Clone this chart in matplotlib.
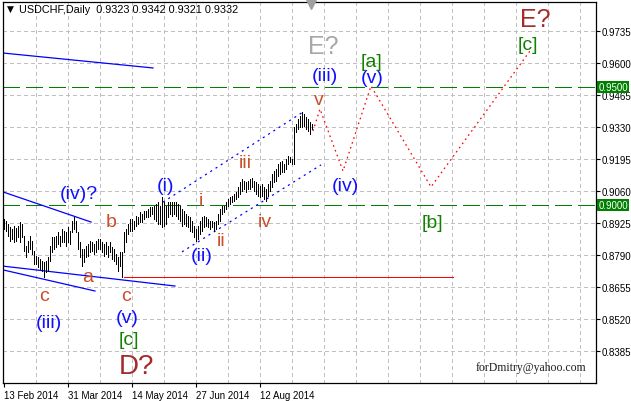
import numpy as np
import matplotlib
matplotlib.use("Agg")
import matplotlib.pyplot as plt

plt.rcParams['lines.scale_dashes'] = False

# daily USDCHF bars, 13 Feb 2014 onwards
highs = [0.8942, 0.8933, 0.8921, 0.8908, 0.8900, 0.8912, 0.8904, 0.8912, 0.8929, 0.8921,
         0.8870, 0.8828, 0.8849, 0.8870, 0.8849, 0.8807, 0.8786, 0.8781, 0.8773, 0.8765,
         0.8760, 0.8765, 0.8781, 0.8828, 0.8866, 0.8866, 0.8870, 0.8887, 0.8870, 0.8900,
         0.8891, 0.8887, 0.8908, 0.8891, 0.8933, 0.8950, 0.8933, 0.8887, 0.8845, 0.8815,
         0.8815, 0.8828, 0.8836, 0.8849, 0.8845, 0.8836, 0.8849, 0.8857, 0.8857, 0.8845,
         0.8836, 0.8845, 0.8828, 0.8845, 0.8824, 0.8815, 0.8794, 0.8781, 0.8803, 0.8803,
         0.8887, 0.8900, 0.8921, 0.8942, 0.8942, 0.8933, 0.8954, 0.8950, 0.8971, 0.8963,
         0.8975, 0.8975, 0.8984, 0.8992, 0.8992, 0.8997, 0.9005, 0.9013, 0.8997, 0.9035,
         0.9013, 0.8997, 0.9013, 0.9013, 0.9013, 0.9013, 0.9013, 0.9005, 0.8997, 0.8984,
         0.8975, 0.8963, 0.8954, 0.8950, 0.8933, 0.8912, 0.8900, 0.8912, 0.8933, 0.8950,
         0.8954, 0.8950, 0.8942, 0.8933, 0.8933, 0.8929, 0.8933, 0.8963, 0.8984, 0.8997,
         0.8997, 0.9013, 0.9026, 0.9035, 0.9039, 0.9047, 0.9056, 0.9077, 0.9098, 0.9111,
         0.9102, 0.9098, 0.9102, 0.9111, 0.9115, 0.9102, 0.9098, 0.9089, 0.9081, 0.9089,
         0.9077, 0.9068, 0.9089, 0.9102, 0.9132, 0.9144, 0.9153, 0.9174, 0.9182, 0.9186,
         0.9174, 0.9195, 0.9208, 0.9203, 0.9195, 0.9330, 0.9343, 0.9364, 0.9376, 0.9393,
         0.9385, 0.9372, 0.9364, 0.9351, 0.9342]
lows = [0.8900, 0.8891, 0.8870, 0.8849, 0.8857, 0.8845, 0.8849, 0.8866, 0.8845, 0.8866,
        0.8807, 0.8781, 0.8803, 0.8815, 0.8794, 0.8752, 0.8752, 0.8739, 0.8731, 0.8722,
        0.8697, 0.8718, 0.8722, 0.8765, 0.8803, 0.8815, 0.8824, 0.8836, 0.8828, 0.8845,
        0.8845, 0.8828, 0.8845, 0.8836, 0.8887, 0.8900, 0.8887, 0.8815, 0.8781, 0.8743,
        0.8760, 0.8781, 0.8786, 0.8803, 0.8807, 0.8794, 0.8803, 0.8815, 0.8815, 0.8803,
        0.8786, 0.8794, 0.8781, 0.8803, 0.8773, 0.8765, 0.8752, 0.8722, 0.8743, 0.8697,
        0.8803, 0.8845, 0.8878, 0.8891, 0.8891, 0.8900, 0.8912, 0.8921, 0.8929, 0.8929,
        0.8942, 0.8950, 0.8950, 0.8954, 0.8963, 0.8942, 0.8933, 0.8921, 0.8921, 0.8908,
        0.8912, 0.8921, 0.8950, 0.8963, 0.8954, 0.8963, 0.8954, 0.8942, 0.8933, 0.8912,
        0.8921, 0.8912, 0.8908, 0.8891, 0.8887, 0.8866, 0.8849, 0.8857, 0.8878, 0.8891,
        0.8908, 0.8912, 0.8908, 0.8900, 0.8908, 0.8891, 0.8900, 0.8921, 0.8933, 0.8963,
        0.8971, 0.8984, 0.8997, 0.9005, 0.9013, 0.9018, 0.9026, 0.9035, 0.9047, 0.9060,
        0.9068, 0.9056, 0.9068, 0.9068, 0.9077, 0.9060, 0.9047, 0.9039, 0.9035, 0.9039,
        0.9026, 0.9018, 0.9039, 0.9060, 0.9077, 0.9098, 0.9102, 0.9123, 0.9132, 0.9140,
        0.9140, 0.9153, 0.9174, 0.9182, 0.9174, 0.9174, 0.9309, 0.9321, 0.9330, 0.9330,
        0.9334, 0.9321, 0.9313, 0.9300, 0.9321]

date_ticks = [0, 32, 64, 96, 128]
date_labels = ['13 Feb 2014', '31 Mar 2014', '14 May 2014', '27 Jun 2014', '12 Aug 2014']
price_ticks = [0.8385, 0.8520, 0.8655, 0.8790, 0.8925, 0.9060, 0.9195, 0.9330, 0.9465, 0.9600, 0.9735]
levels = [0.9500, 0.9000]

# forecast path (bar index, price)
fc_x = [154.5, 158, 169.5, 183.5, 213.5, 263]
fc_y = [0.9313, 0.9406, 0.9144, 0.9503, 0.9077, 0.9651]

# trend lines: (x0, y0, x1, y1)
solid_lines = [(-0.5, 0.9642, 74.5, 0.9579),
               (-0.5, 0.9056, 43.5, 0.8929),
               (-0.5, 0.8743, 85.5, 0.8659),
               (-0.5, 0.8727, 45.5, 0.8638)]
channel_lines = [(79.5, 0.9013, 149.5, 0.9393),
                 (89, 0.8803, 158.5, 0.9170)]
support = (60, 224.5, 0.8697)

# wave labels: text, x, y, colour, size
BLUE, BROWN, GREEN, DRED, GRAY = '#1010ff', '#c8502a', '#108000', '#a52a2a', '#a8a8a8'
labels = [('(iv)?', 37.5, 0.9051, BLUE, 14), ('b', 53.5, 0.8933, BROWN, 14),
          ('a', 42, 0.8701, BROWN, 14), ('c', 20, 0.8621, BROWN, 14),
          ('(iii)', 22.5, 0.8507, BLUE, 14), ('c', 61, 0.8621, BROWN, 14),
          ('(v)', 61.5, 0.8528, BLUE, 14), ('[c]', 62.5, 0.8432, GREEN, 14),
          ('D?', 66, 0.8322, DRED, 20), ('(i)', 80.5, 0.9085, BLUE, 14),
          ('i', 98.5, 0.9018, BROWN, 14), ('(ii)', 99, 0.8786, BLUE, 14),
          ('ii', 108.5, 0.8853, BROWN, 14), ('iii', 120.5, 0.9182, BROWN, 14),
          ('iv', 130.5, 0.8933, BROWN, 14), ('v', 157.5, 0.9448, BROWN, 14),
          ('(iii)', 160.5, 0.9549, BLUE, 14), ('E?', 159.5, 0.9673, GRAY, 18),
          ('(iv)', 170.5, 0.9081, BLUE, 14), ('(v)', 184, 0.9537, BLUE, 14),
          ('[a]', 183.5, 0.9608, GREEN, 14), ('[b]', 214, 0.8929, GREEN, 14),
          ('[c]', 262, 0.9676, GREEN, 14), ('E?', 265.5, 0.9787, DRED, 18)]

W, H = 631, 402
fig = plt.figure(figsize=(W / 100, H / 100), dpi=100)
ax = fig.add_axes([3 / W, 1 - 384 / H, 593 / W, 381 / H])
ax.set_xlim(-0.5, 296)
ax.set_ylim(0.82498, 0.98573)

# grid
for gx in range(16, 296, 16):
    ax.axvline(gx, color='#c0c0c0', lw=0.72, dashes=(2.2, 2.2), antialiased=False, zorder=0)
for gy in price_ticks:
    ax.axhline(gy, color='#c0c0c0', lw=0.72, dashes=(2.2, 2.2), antialiased=False, zorder=0)

# levels
for lv in levels:
    ax.axhline(lv, color='#008000', lw=0.72, dashes=(12, 5), antialiased=False, zorder=1)

# bars
idx = np.arange(len(highs))
ax.vlines(idx, lows, highs, color='black', lw=0.5, antialiased=False, zorder=3)

for x0, y0, x1, y1 in solid_lines:
    ax.plot([x0, x1], [y0, y1], color='#0000ff', lw=0.9, zorder=2)
for x0, y0, x1, y1 in channel_lines:
    ax.plot([x0, x1], [y0, y1], color='#0000ff', lw=0.9, dashes=(1.5, 3), zorder=2)
ax.plot([support[0], support[1]], [support[2], support[2]], color='#ff0000', lw=0.72,
        antialiased=False, zorder=2)
ax.plot(fc_x, fc_y, color='#ff0000', lw=0.9, dashes=(1.2, 2.5), zorder=2)

for txt, x, y, c, s in labels:
    ax.text(x, y, txt, color=c, fontsize=s, ha='center', va='center',
            family='Liberation Sans', zorder=4)

# header and watermark
ax.text(0.006, 0.982, '\u25bc', transform=ax.transAxes, fontsize=6.5, va='center', ha='left')
ax.text(0.027, 0.982, 'USDCHF,Daily  0.9323 0.9342 0.9321 0.9332', transform=ax.transAxes,
        fontsize=7.8, va='center', ha='left', family='Liberation Sans')
ax.plot([153.5], [0.9850], marker='v', color='#a0a0a0', ms=7, clip_on=False, zorder=5)
ax.text(236, 0.8317, 'forDmitry@yahoo.com', fontsize=8.5, family='Liberation Serif',
        color='#202020', ha='left', va='center')

# axes look
for sp in ax.spines.values():
    sp.set_linewidth(0.9)
ax.yaxis.tick_right()
ax.set_yticks(price_ticks)
ax.set_yticklabels([f'{p:.4f}' for p in price_ticks])
ax.set_xticks(date_ticks)
ax.set_xticklabels(date_labels, ha='left')
ax.tick_params(axis='y', direction='out', length=3, width=0.8, pad=1, labelsize=7)
ax.tick_params(axis='x', direction='out', length=3, width=0.8, pad=2, labelsize=7)
for lab in ax.get_xticklabels() + ax.get_yticklabels():
    lab.set_family('Liberation Sans')

for lv in levels:
    ax.text(1.004, lv, f'{lv:.4f}', transform=ax.get_yaxis_transform(), fontsize=7,
            family='Liberation Sans', color='white', va='center', ha='left',
            bbox=dict(boxstyle='square,pad=0.12', fc='#008000', ec='none'), clip_on=False)

fig.savefig('out.png', dpi=100)
